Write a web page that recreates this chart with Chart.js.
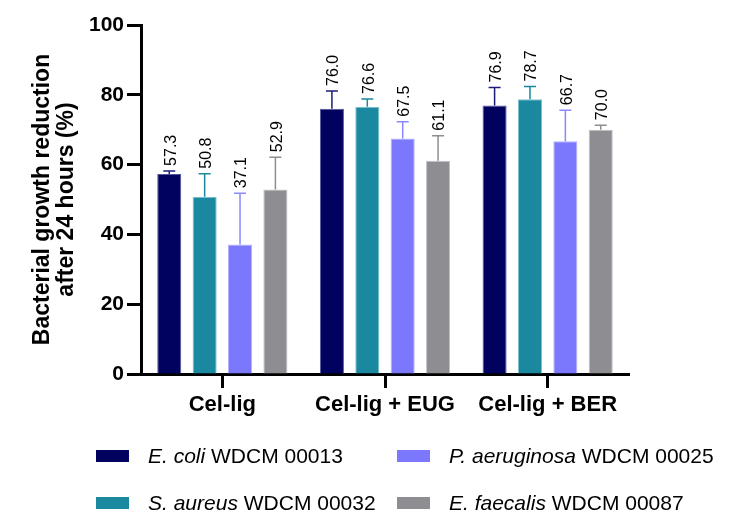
<!DOCTYPE html>
<html>
<head>
<meta charset="utf-8">
<script src="https://cdn.jsdelivr.net/npm/chart.js@4/dist/chart.umd.min.js"></script>
<style>
  html, body { margin: 0; padding: 0; background: #fff; }
  #wrap { position: relative; width: 750px; height: 513px; }
  .legend { position: absolute; font-family: 'Liberation Sans', Arial, sans-serif; font-size: 21px; line-height: 24px; color: #000; white-space: nowrap; }
  .legend span.box { position: absolute; top: 6px; width: 33px; height: 12px; }
</style>
</head>
<body>
<div id="wrap">
  <canvas id="chart"></canvas>
</div>
<script>
const groups = ['Cel-lig', 'Cel-lig + EUG', 'Cel-lig + BER'];

const ecoli = [57.3, 76.0, 76.9];
const ecoliErr = [0.9, 5.1, 5.2];
const saureus = [50.8, 76.6, 78.7];
const saureusErr = [6.6, 2.2, 3.7];
const paeruginosa = [37.1, 67.5, 66.7];
const paeruginosaErr = [14.7, 4.8, 8.9];
const efaecalis = [52.9, 61.1, 70.0];
const efaecalisErr = [9.2, 7.2, 1.3];

const yTicks = [0, 20, 40, 60, 80, 100];

const species = [
  { italic: 'E. coli', strain: 'WDCM 00013', data: ecoli, err: ecoliErr, color: '#01015f', edge: '#5656a0', errColor: '#1c1c78' },
  { italic: 'S. aureus', strain: 'WDCM 00032', data: saureus, err: saureusErr, color: '#1a889f', edge: '#7cc0cf', errColor: '#1a889f' },
  { italic: 'P. aeruginosa', strain: 'WDCM 00025', data: paeruginosa, err: paeruginosaErr, color: '#7b78fe', edge: '#b4b2ff', errColor: '#8a88ff' },
  { italic: 'E. faecalis', strain: 'WDCM 00087', data: efaecalis, err: efaecalisErr, color: '#8e8d92', edge: '#c2c1c5', errColor: '#8e8d92' }
];

// error bars + rotated value labels
const errorBars = {
  id: 'errorBars',
  afterDatasetsDraw(chart) {
    const ctx = chart.ctx;
    const y = chart.scales.y;
    chart.data.datasets.forEach((ds, i) => {
      const meta = chart.getDatasetMeta(i);
      meta.data.forEach((bar, j) => {
        const v = ds.data[j];
        const top = y.getPixelForValue(v + ds.errs[j]);
        ctx.save();
        ctx.strokeStyle = ds.errColor;
        ctx.lineWidth = 1.5;
        ctx.beginPath();
        ctx.moveTo(bar.x, bar.y);
        ctx.lineTo(bar.x, top);
        ctx.moveTo(bar.x - 6, top);
        ctx.lineTo(bar.x + 6, top);
        ctx.stroke();
        ctx.translate(bar.x + 2, top - 5);
        ctx.rotate(-Math.PI / 2);
        ctx.fillStyle = '#000';
        ctx.font = '16px "Liberation Sans", Arial, sans-serif';
        ctx.textAlign = 'left';
        ctx.textBaseline = 'middle';
        ctx.fillText(v.toFixed(1), 0, 0);
        ctx.restore();
      });
    });
  }
};

new Chart(document.getElementById('chart'), {
  type: 'bar',
  data: {
    labels: groups,
    datasets: species.map(s => ({
      label: s.italic + ' ' + s.strain,
      data: s.data,
      errs: s.err,
      errColor: s.errColor,
      backgroundColor: s.color,
      borderColor: s.edge,
      borderWidth: 1,
      categoryPercentage: 0.87,
      barPercentage: 0.68
    }))
  },
  options: {
    responsive: true,
    maintainAspectRatio: false,
    animation: false,
    layout: { padding: { top: 25, right: 121, bottom: 89, left: 0 } },
    plugins: {
      legend: { display: false },
      tooltip: { enabled: false }
    },
    scales: {
      x: {
        afterFit(scale) { scale.height = 50; },
        border: { color: '#000', width: 3 },
        grid: { display: true, drawOnChartArea: false, offset: false, tickLength: 14, color: '#000', tickWidth: 3 },
        ticks: {
          color: '#000',
          padding: 4,
          font: { family: 'Liberation Sans, Arial, sans-serif', size: 22, weight: 'bold' }
        }
      },
      y: {
        min: 0,
        max: 100,
        afterFit(scale) { scale.width = 141; },
        afterBuildTicks(scale) { scale.ticks = yTicks.map(v => ({ value: v })); },
        border: { color: '#000', width: 3 },
        grid: { display: true, drawOnChartArea: false, tickLength: 14, color: '#000', tickWidth: 3 },
        ticks: {
          color: '#000',
          padding: 3,
          font: { family: 'Liberation Sans, Arial, sans-serif', size: 21, weight: 'bold' }
        },
        title: {
          display: true,
          text: ['Bacterial growth reduction', 'after 24 hours (%)'],
          color: '#000',
          padding: { top: 31, bottom: 0 },
          font: { family: 'Liberation Sans, Arial, sans-serif', size: 23, weight: 'bold', lineHeight: 1.02 }
        }
      }
    }
  },
  plugins: [errorBars]
});

// legend (two columns, species names in italics)
const wrap = document.getElementById('wrap');
const legendPos = [[96, 456], [96, 503], [397, 456], [397, 503]];
species.forEach((s, k) => {
  const d = document.createElement('div');
  d.className = 'legend';
  d.style.left = legendPos[k][0] + 'px';
  d.style.top = (legendPos[k][1] - 12) + 'px';
  d.style.paddingLeft = '52px';
  d.innerHTML = '<span class="box" style="left:0;background:' + s.color + '"></span><i>' + s.italic + '</i> ' + s.strain;
  wrap.appendChild(d);
});
</script>
</body>
</html>
